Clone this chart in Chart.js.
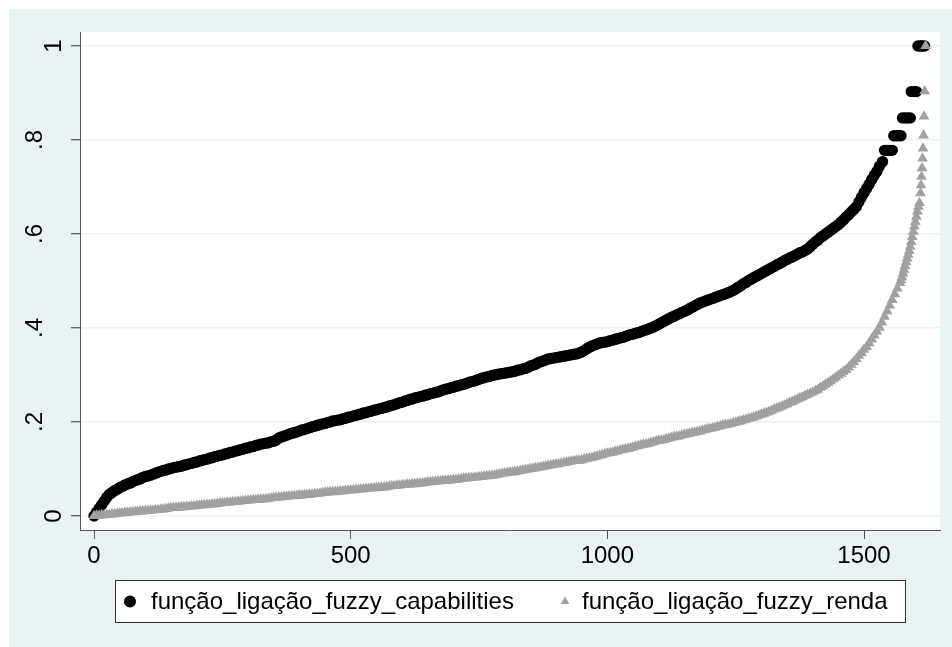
<!DOCTYPE html>
<html>
<head>
<meta charset="utf-8">
<script src="https://cdn.jsdelivr.net/npm/chart.js@4.4.1/dist/chart.umd.min.js"></script>
<style>
  html, body { margin: 0; padding: 0; background: #fff; }
  canvas { display: block; }
</style>
</head>
<body>
<canvas id="c" width="952" height="647"></canvas>
<script>
// Sorted fuzzy membership values plotted against their rank.
const capRank = [
  0, 5, 10, 15, 20, 25, 30, 35, 40, 45, 50, 55, 60, 65, 70, 75, 80, 85, 90, 95,
  100, 105, 110, 115, 120, 125, 130, 135, 140, 145, 150, 155, 160, 165, 170, 175, 180, 185, 190, 195,
  200, 205, 210, 215, 220, 225, 230, 235, 240, 245, 250, 255, 260, 265, 270, 275, 280, 285, 290, 295,
  300, 305, 310, 315, 320, 325, 330, 335, 340, 345, 350, 355, 360, 365, 370, 375, 380, 385, 390, 395,
  400, 405, 410, 415, 420, 425, 430, 435, 440, 445, 450, 455, 460, 465, 470, 475, 480, 485, 490, 495,
  500, 505, 510, 515, 520, 525, 530, 535, 540, 545, 550, 555, 560, 565, 570, 575, 580, 585, 590, 595,
  600, 605, 610, 615, 620, 625, 630, 635, 640, 645, 650, 655, 660, 665, 670, 675, 680, 685, 690, 695,
  700, 705, 710, 715, 720, 725, 730, 735, 740, 745, 750, 755, 760, 765, 770, 775, 780, 785, 790, 795,
  800, 805, 810, 815, 820, 825, 830, 835, 840, 845, 850, 855, 860, 865, 870, 875, 880, 885, 890, 895,
  900, 905, 910, 915, 920, 925, 930, 935, 940, 945, 950, 955, 960, 965, 970, 975, 980, 985, 990, 995,
  1000, 1005, 1010, 1015, 1020, 1025, 1030, 1035, 1040, 1045, 1050, 1055, 1060, 1065, 1070, 1075, 1080, 1085, 1090, 1095,
  1100, 1105, 1110, 1115, 1120, 1125, 1130, 1135, 1140, 1145, 1150, 1155, 1160, 1165, 1170, 1175, 1180, 1185, 1190, 1195,
  1200, 1205, 1210, 1215, 1220, 1225, 1230, 1235, 1240, 1245, 1250, 1255, 1260, 1265, 1270, 1275, 1280, 1285, 1290, 1295,
  1300, 1305, 1310, 1315, 1320, 1325, 1330, 1335, 1340, 1345, 1350, 1355, 1360, 1365, 1370, 1375, 1380, 1385, 1390, 1395,
  1400, 1405, 1410, 1415, 1420, 1425, 1430, 1435, 1440, 1445, 1450, 1455, 1460, 1465, 1470, 1475, 1480, 1485, 1490, 1495,
  1500, 1505, 1510, 1515, 1520, 1525, 1530, 1536,
  1540, 1545, 1550, 1555, 1558, 1563, 1568, 1572, 1575, 1580, 1585, 1590, 1592, 1597, 1602, 1605, 1610, 1614, 1618
];
const capValue = [
  0.000, 0.008, 0.016, 0.024, 0.032, 0.040, 0.046, 0.050, 0.054, 0.057, 0.060, 0.063, 0.066, 0.068, 0.070, 0.073, 0.075, 0.077, 0.079, 0.082,
  0.084, 0.085, 0.087, 0.089, 0.091, 0.093, 0.095, 0.097, 0.098, 0.100, 0.101, 0.103, 0.104, 0.105, 0.106, 0.108, 0.109, 0.111, 0.112, 0.114,
  0.115, 0.117, 0.118, 0.120, 0.121, 0.123, 0.124, 0.126, 0.127, 0.129, 0.130, 0.132, 0.133, 0.135, 0.136, 0.138, 0.139, 0.141, 0.142, 0.144,
  0.145, 0.147, 0.148, 0.150, 0.151, 0.153, 0.154, 0.155, 0.156, 0.158, 0.159, 0.162, 0.166, 0.168, 0.170, 0.172, 0.174, 0.176, 0.177, 0.179,
  0.181, 0.183, 0.184, 0.186, 0.188, 0.190, 0.191, 0.193, 0.194, 0.196, 0.197, 0.199, 0.200, 0.202, 0.203, 0.204, 0.205, 0.207, 0.208, 0.210,
  0.211, 0.213, 0.214, 0.216, 0.217, 0.219, 0.220, 0.222, 0.223, 0.225, 0.226, 0.228, 0.229, 0.231, 0.232, 0.234, 0.235, 0.237, 0.239, 0.241,
  0.242, 0.244, 0.246, 0.248, 0.249, 0.251, 0.252, 0.254, 0.255, 0.257, 0.258, 0.260, 0.261, 0.263, 0.264, 0.266, 0.268, 0.270, 0.271, 0.273,
  0.274, 0.276, 0.277, 0.279, 0.280, 0.282, 0.284, 0.286, 0.287, 0.289, 0.291, 0.293, 0.294, 0.296, 0.297, 0.299, 0.300, 0.301, 0.302, 0.303,
  0.304, 0.305, 0.306, 0.307, 0.308, 0.310, 0.311, 0.313, 0.314, 0.316, 0.319, 0.321, 0.323, 0.326, 0.328, 0.330, 0.332, 0.334, 0.335, 0.336,
  0.337, 0.338, 0.339, 0.340, 0.341, 0.342, 0.343, 0.344, 0.345, 0.347, 0.349, 0.352, 0.356, 0.359, 0.362, 0.364, 0.366, 0.368, 0.369, 0.370,
  0.371, 0.373, 0.374, 0.376, 0.377, 0.379, 0.380, 0.382, 0.384, 0.386, 0.387, 0.389, 0.390, 0.392, 0.394, 0.396, 0.398, 0.400, 0.402, 0.405,
  0.408, 0.411, 0.414, 0.417, 0.420, 0.423, 0.425, 0.428, 0.430, 0.433, 0.435, 0.438, 0.441, 0.444, 0.447, 0.450, 0.453, 0.455, 0.457, 0.459,
  0.461, 0.463, 0.465, 0.467, 0.469, 0.471, 0.473, 0.475, 0.477, 0.480, 0.483, 0.487, 0.490, 0.494, 0.497, 0.501, 0.504, 0.507, 0.510, 0.513,
  0.516, 0.519, 0.522, 0.525, 0.528, 0.531, 0.534, 0.537, 0.540, 0.543, 0.546, 0.549, 0.551, 0.554, 0.557, 0.560, 0.562, 0.565, 0.568, 0.573,
  0.578, 0.583, 0.587, 0.592, 0.596, 0.600, 0.604, 0.608, 0.612, 0.616, 0.620, 0.625, 0.630, 0.636, 0.641, 0.647, 0.652, 0.658, 0.668, 0.678,
  0.688, 0.697, 0.706, 0.716, 0.725, 0.733, 0.744, 0.754,
  0.778, 0.778, 0.778, 0.778, 0.809, 0.809, 0.809, 0.809, 0.847, 0.847, 0.847, 0.847, 0.903, 0.903, 0.903, 1.000, 1.000, 1.000, 1.000
];

const rendaRank = [
  0, 5, 10, 15, 20, 25, 30, 35, 40, 45, 50, 55, 60, 65, 70, 75, 80, 85, 90, 95,
  100, 105, 110, 115, 120, 125, 130, 135, 140, 145, 150, 155, 160, 165, 170, 175, 180, 185, 190, 195,
  200, 205, 210, 215, 220, 225, 230, 235, 240, 245, 250, 255, 260, 265, 270, 275, 280, 285, 290, 295,
  300, 305, 310, 315, 320, 325, 330, 335, 340, 345, 350, 355, 360, 365, 370, 375, 380, 385, 390, 395,
  400, 405, 410, 415, 420, 425, 430, 435, 440, 445, 450, 455, 460, 465, 470, 475, 480, 485, 490, 495,
  500, 505, 510, 515, 520, 525, 530, 535, 540, 545, 550, 555, 560, 565, 570, 575, 580, 585, 590, 595,
  600, 605, 610, 615, 620, 625, 630, 635, 640, 645, 650, 655, 660, 665, 670, 675, 680, 685, 690, 695,
  700, 705, 710, 715, 720, 725, 730, 735, 740, 745, 750, 755, 760, 765, 770, 775, 780, 785, 790, 795,
  800, 805, 810, 815, 820, 825, 830, 835, 840, 845, 850, 855, 860, 865, 870, 875, 880, 885, 890, 895,
  900, 905, 910, 915, 920, 925, 930, 935, 940, 945, 950, 955, 960, 965, 970, 975, 980, 985, 990, 995,
  1000, 1005, 1010, 1015, 1020, 1025, 1030, 1035, 1040, 1045, 1050, 1055, 1060, 1065, 1070, 1075, 1080, 1085, 1090, 1095,
  1100, 1105, 1110, 1115, 1120, 1125, 1130, 1135, 1140, 1145, 1150, 1155, 1160, 1165, 1170, 1175, 1180, 1185, 1190, 1195,
  1200, 1205, 1210, 1215, 1220, 1225, 1230, 1235, 1240, 1245, 1250, 1255, 1260, 1265, 1270, 1275, 1280, 1285, 1290, 1295,
  1300, 1305, 1310, 1315, 1320, 1325, 1330, 1335, 1340, 1345, 1350, 1355, 1360, 1365, 1370, 1375, 1380, 1385, 1390, 1395,
  1400, 1405, 1410, 1415, 1420, 1425, 1430, 1435, 1440, 1445, 1450, 1455, 1460, 1465, 1470, 1475, 1480, 1485, 1490, 1495,
  1500, 1505, 1510, 1515, 1520, 1525, 1530, 1535, 1540, 1545, 1550, 1555, 1560, 1565, 1570,
  1572, 1574, 1576, 1578, 1580, 1582, 1584, 1586, 1588, 1590, 1592, 1594, 1596, 1598, 1600, 1602, 1604, 1606, 1608,
  1610, 1611, 1612, 1613, 1614, 1615, 1616, 1617, 1618, 1620
];
const rendaValue = [
  0.000, 0.001, 0.001, 0.002, 0.002, 0.003, 0.003, 0.004, 0.004, 0.005, 0.006, 0.006, 0.007, 0.007, 0.008, 0.008, 0.009, 0.009, 0.010, 0.010,
  0.011, 0.011, 0.012, 0.012, 0.013, 0.013, 0.014, 0.014, 0.015, 0.016, 0.017, 0.017, 0.018, 0.018, 0.019, 0.019, 0.020, 0.020, 0.021, 0.021,
  0.022, 0.022, 0.023, 0.023, 0.024, 0.024, 0.025, 0.025, 0.026, 0.027, 0.028, 0.028, 0.029, 0.029, 0.030, 0.030, 0.031, 0.031, 0.032, 0.032,
  0.033, 0.033, 0.034, 0.034, 0.035, 0.035, 0.036, 0.036, 0.037, 0.038, 0.039, 0.039, 0.040, 0.040, 0.041, 0.041, 0.042, 0.042, 0.043, 0.043,
  0.044, 0.044, 0.045, 0.045, 0.046, 0.046, 0.047, 0.047, 0.048, 0.049, 0.050, 0.050, 0.051, 0.051, 0.052, 0.052, 0.053, 0.053, 0.054, 0.054,
  0.055, 0.055, 0.056, 0.056, 0.057, 0.057, 0.058, 0.058, 0.059, 0.059, 0.060, 0.060, 0.061, 0.061, 0.062, 0.063, 0.064, 0.064, 0.065, 0.065,
  0.066, 0.066, 0.067, 0.067, 0.068, 0.068, 0.069, 0.069, 0.070, 0.071, 0.072, 0.072, 0.073, 0.073, 0.074, 0.074, 0.075, 0.075, 0.076, 0.076,
  0.077, 0.077, 0.078, 0.079, 0.080, 0.080, 0.081, 0.081, 0.082, 0.082, 0.083, 0.083, 0.084, 0.085, 0.086, 0.086, 0.087, 0.088, 0.089, 0.090,
  0.091, 0.092, 0.093, 0.093, 0.094, 0.095, 0.096, 0.097, 0.098, 0.099, 0.100, 0.101, 0.102, 0.103, 0.104, 0.105, 0.106, 0.107, 0.108, 0.109,
  0.110, 0.111, 0.112, 0.113, 0.114, 0.115, 0.116, 0.117, 0.118, 0.118, 0.119, 0.121, 0.122, 0.123, 0.124, 0.126, 0.127, 0.129, 0.130, 0.132,
  0.133, 0.134, 0.135, 0.137, 0.138, 0.140, 0.141, 0.142, 0.143, 0.145, 0.146, 0.148, 0.149, 0.151, 0.152, 0.153, 0.154, 0.156, 0.157, 0.159,
  0.160, 0.161, 0.162, 0.164, 0.165, 0.167, 0.168, 0.169, 0.170, 0.172, 0.173, 0.174, 0.175, 0.177, 0.178, 0.179, 0.180, 0.182, 0.183, 0.185,
  0.186, 0.187, 0.188, 0.190, 0.191, 0.193, 0.194, 0.195, 0.196, 0.198, 0.199, 0.201, 0.202, 0.204, 0.205, 0.207, 0.208, 0.210, 0.212, 0.214,
  0.216, 0.218, 0.220, 0.222, 0.224, 0.227, 0.229, 0.231, 0.233, 0.236, 0.238, 0.241, 0.243, 0.246, 0.248, 0.251, 0.253, 0.256, 0.258, 0.261,
  0.263, 0.266, 0.269, 0.273, 0.276, 0.280, 0.283, 0.287, 0.291, 0.295, 0.299, 0.303, 0.307, 0.311, 0.316, 0.322, 0.328, 0.334, 0.341, 0.347,
  0.354, 0.360, 0.368, 0.376, 0.384, 0.393, 0.401, 0.412, 0.424, 0.436, 0.448, 0.460, 0.472, 0.484, 0.496,
  0.502, 0.508, 0.516, 0.524, 0.532, 0.540, 0.548, 0.556, 0.564, 0.573, 0.583, 0.594, 0.605, 0.616, 0.626, 0.637, 0.648, 0.658, 0.666,
  0.687, 0.704, 0.722, 0.740, 0.761, 0.782, 0.810, 0.850, 0.904, 1.000
];

const xTicks = [0, 500, 1000, 1500];
const yTicks = [0, 0.2, 0.4, 0.6, 0.8, 1];
const yTickLabels = ['0', '.2', '.4', '.6', '.8', '1'];
const seriesLabels = ['função_ligação_fuzzy_capabilities', 'função_ligação_fuzzy_renda'];

const FONT = "'Liberation Sans', Arial, Helvetica, sans-serif";
const PANEL = '#eaf2f3';
const AXIS = '#555555';
const GRAY = '#a0a0a0';

const toPoints = (xs, ys) => xs.map((x, i) => ({ x: x, y: ys[i] }));

// Background panel, rotated y labels and the boxed legend.
const decorations = {
  id: 'decorations',
  beforeDraw(chart) {
    const { ctx, chartArea: a } = chart;
    ctx.save();
    ctx.fillStyle = '#ffffff';
    ctx.fillRect(0, 0, chart.width, chart.height);
    ctx.fillStyle = PANEL;
    ctx.fillRect(9, 9, chart.width - 9, chart.height - 9);
    ctx.fillStyle = '#ffffff';
    ctx.fillRect(a.left, a.top, a.right - a.left, a.bottom - a.top);
    ctx.restore();
  },
  afterDraw(chart) {
    const { ctx, chartArea: a } = chart;
    const ys = chart.scales.y;
    const tickEnd = a.left - 9;

    ctx.save();
    ctx.font = '24px ' + FONT;
    ctx.fillStyle = '#000';
    ctx.textAlign = 'center';
    ctx.textBaseline = 'alphabetic';
    yTicks.forEach((v, i) => {
      const lab = yTickLabels[i];
      const py = ys.getPixelForValue(v);
      const bx = lab.charAt(0) === '.' ? tickEnd - 29.5 : tickEnd - 10.5;
      ctx.save();
      ctx.translate(bx, py);
      ctx.rotate(-Math.PI / 2);
      ctx.fillText(lab, 0, 0);
      ctx.restore();
    });
    ctx.restore();

    // legend
    const box = { x: 115.5, y: 580.5, w: 790, h: 42 };
    ctx.save();
    ctx.fillStyle = '#ffffff';
    ctx.fillRect(box.x, box.y, box.w, box.h);
    ctx.strokeStyle = '#333333';
    ctx.lineWidth = 1;
    ctx.strokeRect(box.x, box.y, box.w, box.h);

    const cy = box.y + 21;
    const ds = chart.data.datasets;
    const items = [
      { mx: 130, tx: 151, ds: ds[0], r: 6 },
      { mx: 565, tx: 582, ds: ds[1], r: 5 }
    ];
    items.forEach(it => {
      ctx.fillStyle = it.ds.backgroundColor;
      ctx.strokeStyle = it.ds.backgroundColor;
      Chart.helpers.drawPoint(ctx, { pointStyle: it.ds.pointStyle, radius: it.r, borderWidth: 0, rotation: 0 }, it.mx, cy);
      ctx.fillStyle = '#000';
      ctx.font = '24px ' + FONT;
      ctx.textAlign = 'left';
      ctx.textBaseline = 'alphabetic';
      ctx.fillText(it.ds.label, it.tx, cy + 7.5);
    });
    ctx.restore();
  }
};

new Chart(document.getElementById('c'), {
  type: 'scatter',
  data: {
    datasets: [
      {
        label: seriesLabels[0],
        data: toPoints(capRank, capValue),
        pointStyle: 'circle',
        pointRadius: 5.7,
        backgroundColor: '#000000',
        borderColor: '#000000',
        borderWidth: 0,
        order: 2
      },
      {
        label: seriesLabels[1],
        data: toPoints(rendaRank, rendaValue),
        pointStyle: 'triangle',
        pointRadius: 6.2,
        backgroundColor: GRAY,
        borderColor: GRAY,
        borderWidth: 0,
        order: 1
      }
    ]
  },
  options: {
    responsive: false,
    animation: false,
    devicePixelRatio: 1,
    events: [],
    layout: { padding: { left: 0, top: 32, right: 12, bottom: 0 } },
    plugins: { legend: { display: false }, tooltip: { enabled: false } },
    scales: {
      x: {
        type: 'linear',
        min: -27.3,
        max: 1648,
        afterBuildTicks: s => { s.ticks = xTicks.map(v => ({ value: v })); },
        afterFit: s => { s.height = 117; },
        grid: { drawOnChartArea: false, drawTicks: true, tickLength: 9, tickColor: AXIS, tickWidth: 1 },
        border: { display: true, color: AXIS, width: 1 },
        ticks: {
          font: { family: FONT, size: 24 },
          color: '#000',
          padding: 3,
          maxRotation: 0,
          autoSkip: false,
          callback: v => String(v)
        }
      },
      y: {
        type: 'linear',
        min: -0.02979,
        max: 1.02979,
        afterBuildTicks: s => { s.ticks = yTicks.map(v => ({ value: v })); },
        afterFit: s => { s.width = 80; },
        grid: { color: PANEL, lineWidth: 1.5, drawTicks: true, tickLength: 9, tickColor: '#333333', tickWidth: 1 },
        border: { display: true, color: AXIS, width: 1 },
        ticks: { display: false }
      }
    }
  },
  plugins: [decorations]
});
</script>
</body>
</html>
